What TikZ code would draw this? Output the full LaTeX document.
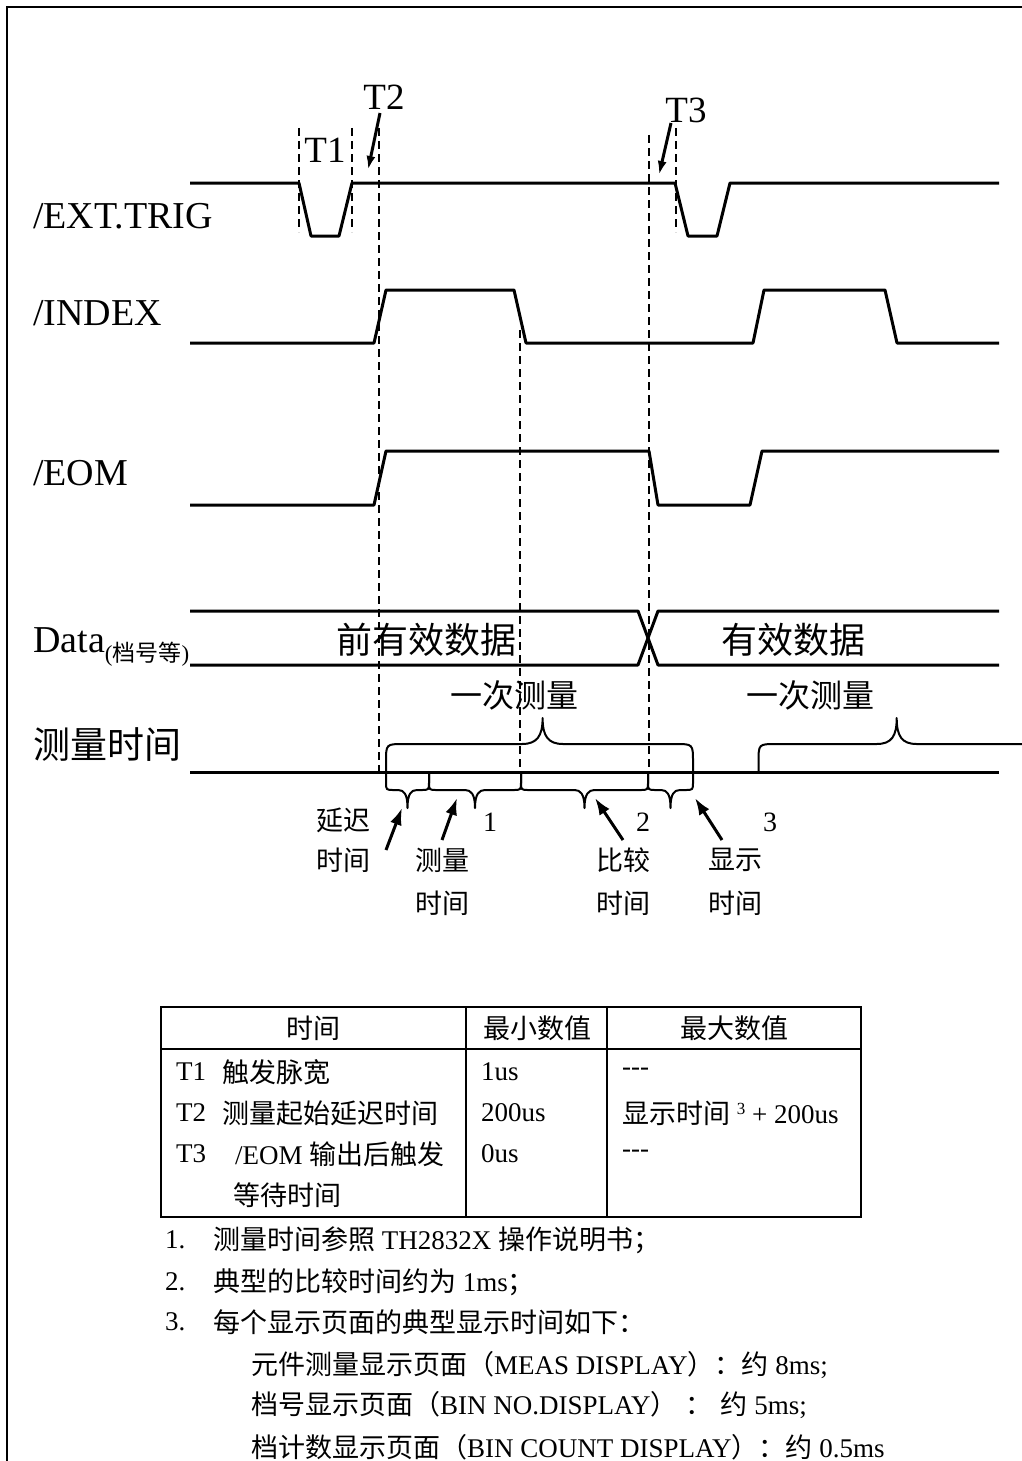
\documentclass[tikz,border=0pt]{standalone}
\usepackage{fontspec}
\setmainfont{Liberation Serif}
\newfontfamily\cjk{Noto Sans CJK SC}
\usetikzlibrary{arrows.meta}
\newcommand\fsz[1]{\fontsize{#1}{#1}\selectfont}
\begin{document}
\begin{tikzpicture}[x=1pt,y=-1pt,
  sig/.style={line width=3pt,line join=round},
  guide/.style={line width=1.1pt,dash pattern=on 8pt off 5pt},
  brc/.style={line width=2pt,line join=round},
  tab/.style={line width=2pt},
  lbl/.style={inner sep=0pt,anchor=base west,font=\fsz{38}},
  tlbl/.style={inner sep=0pt,font=\fsz{37}},
  bigcn/.style={inner sep=0pt,font=\cjk\fsz{36}},
  midcn/.style={inner sep=0pt,font=\cjk\fsz{32}},
  smcn/.style={inner sep=0pt,font=\cjk\fsz{27}},
  smnum/.style={inner sep=0pt,font=\fsz{28}},
  cell/.style={inner sep=0pt,anchor=west,font=\fsz{27}},
  hdr/.style={inner sep=0pt,font=\cjk\fsz{27}},
  tarr/.style={line width=3pt,-{Latex[length=14pt,width=9pt]}},
  barr/.style={line width=3pt,-{Latex[length=17pt,width=12pt]}}
]
\useasboundingbox (0,0) rectangle (1021,1461);
% frame
\draw[line width=2.5pt] (1030,7) -- (7,7) -- (7,1470);

% signal labels
\node[lbl] (lext) at (33,228) {/EXT.TRIG};
\node[lbl] (lidx) at (33,325) {/INDEX};
\node[lbl] (leom) at (33,485) {/EOM};
\node[lbl] (ldata) at (33,652) {Data\raisebox{-9pt}{\fsz{23}({\cjk 档号等})}};
\node[inner sep=0pt,anchor=west,font=\cjk\fsz{37}] (lmt) at (33,745) {测量时间};

% waveforms
\draw[sig] (190,183) -- (299,183) -- (311,236) -- (339,236) -- (352,183) -- (675,183) -- (688,236) -- (717,236) -- (730,183) -- (999,183);
\draw[sig] (190,343) -- (374,343) -- (386,290) -- (514,290) -- (526,343) -- (753,343) -- (764,290) -- (885,290) -- (897,343) -- (999,343);
\draw[sig] (190,505) -- (374,505) -- (386,451) -- (649,451) -- (658,505) -- (750,505) -- (762,451) -- (999,451);
\draw[sig] (190,611) -- (638,611) -- (658,665) -- (999,665);
\draw[sig] (190,665) -- (638,665) -- (658,611) -- (999,611);
\draw[sig] (190,772) -- (999,772);

% dashed guides
\draw[guide] (299,128) -- (299,232);
\draw[guide] (352,128) -- (352,232);
\draw[guide] (379,128) -- (379,772);
\draw[guide] (520,330) -- (520,772);
\draw[guide] (649,135) -- (649,772);
\draw[guide] (676,128) -- (676,232);

% T labels and arrows
\node[tlbl] (t1) at (325,150) {T1};
\node[tlbl] (t2) at (384,97) {T2};
\node[tlbl] (t3) at (686,110) {T3};
\coordinate (t2s) at (380,113); \coordinate (t2e) at (368,170);
\coordinate (t3s) at (671,123); \coordinate (t3e) at (659,175);
\draw[tarr] (t2s) -- (t2e);
\draw[tarr] (t3s) -- (t3e);

% data texts
\node[bigcn] (d1) at (426,640) {前有效数据};
\node[bigcn] (d2) at (793,640) {有效数据};
\node[midcn] (m1) at (514,695) {一次测量};
\node[midcn] (m2) at (810,695) {一次测量};

% big braces
\draw[brc] (386,772) -- (386,762) .. controls (386,744) .. (404,744) -- (522,744) .. controls (537,744) and (542.6,736) .. (542.6,718) .. controls (542.6,736) and (548,744) .. (563,744) -- (675,744) .. controls (693,744) .. (693,762) -- (693,772);
\draw[brc] (758.5,772) -- (758.5,762) .. controls (758.5,744) .. (776.5,744) -- (876.7,744) .. controls (891.7,744) and (896.7,736) .. (896.7,718) .. controls (896.7,736) and (901.7,744) .. (916.7,744) -- (1017,744) .. controls (1035,744) .. (1035,762) -- (1035,772);

% small braces
\draw[brc] (386,772) -- (386,782) .. controls (386,790) .. (394,790) -- (398,790) .. controls (404,790) and (407.5,794) .. (407.5,808) .. controls (407.5,794) and (411,790) .. (417,790) -- (421,790) .. controls (429,790) .. (429,782) -- (429,772);
\draw[brc] (429,772) -- (429,782) .. controls (429,790) .. (437,790) -- (465,790) .. controls (471,790) and (475,794) .. (475,808) .. controls (475,794) and (479,790) .. (485,790) -- (513,790) .. controls (521,790) .. (521,782) -- (521,772);
\draw[brc] (521,772) -- (521,782) .. controls (521,790) .. (529,790) -- (574.5,790) .. controls (580.5,790) and (584.5,794) .. (584.5,808) .. controls (584.5,794) and (588.5,790) .. (594.5,790) -- (640,790) .. controls (648,790) .. (648,782) -- (648,772);
\draw[brc] (648,772) -- (648,782) .. controls (648,790) .. (656,790) -- (661,790) .. controls (667,790) and (670.5,794) .. (670.5,808) .. controls (670.5,794) and (674,790) .. (680,790) -- (685,790) .. controls (693,790) .. (693,782) -- (693,772);

% bottom labels
\node[smcn] (a1) at (343,820) {延迟};
\node[smcn] (a2) at (343,860) {时间};
\node[smcn] (b1) at (442,860) {测量};
\node[smcn] (b2) at (442,903) {时间};
\node[smcn] (c1) at (623,860) {比较};
\node[smcn] (c2) at (623,903) {时间};
\node[smcn] (e1) at (735,860) {显示};
\node[smcn] (e2) at (735,903) {时间};
\node[smnum] (n1) at (490,822) {1};
\node[smnum] (n2) at (643,822) {2};
\node[smnum] (n3) at (770,822) {3};
\coordinate (p1s) at (386,850); \coordinate (p1e) at (402,808);
\coordinate (p2s) at (442,840); \coordinate (p2e) at (457,798);
\coordinate (p3s) at (623,840); \coordinate (p3e) at (595,798);
\coordinate (p4s) at (722,840); \coordinate (p4e) at (695,798);
\draw[barr] (p1s) -- (p1e);
\draw[barr] (p2s) -- (p2e);
\draw[barr] (p3s) -- (p3e);
\draw[barr] (p4s) -- (p4e);

% table
\draw[tab] (161,1007) rectangle (861,1217);
\draw[tab] (161,1049) -- (861,1049);
\draw[tab] (466,1007) -- (466,1217);
\draw[tab] (607,1007) -- (607,1217);
\node[hdr] (h1) at (313,1028) {时间};
\node[hdr] (h2) at (537,1028) {最小数值};
\node[hdr] (h3) at (734,1028) {最大数值};
\node[cell] (r1a) at (176,1072) {T1};
\node[cell] (r1b) at (222,1072) {\cjk 触发脉宽};
\node[cell] (r1c) at (481,1072) {1us};
\node[cell] (r1d) at (622,1072) {{-}{-}{-}};
\node[cell] (r2a) at (176,1113) {T2};
\node[cell] (r2b) at (222,1113) {\cjk 测量起始延迟时间};
\node[cell] (r2c) at (481,1113) {200us};
\node[cell] (r2d) at (622,1113) {{\cjk 显示时间} \raisebox{9pt}{\fsz{17}3} + 200us};
\node[cell] (r3a) at (176,1154) {T3};
\node[cell] (r3b) at (235,1154) {/EOM {\cjk 输出后触发}};
\node[cell] (r3c) at (481,1154) {0us};
\node[cell] (r3d) at (622,1154) {{-}{-}{-}};
\node[cell] (r4b) at (233,1195) {\cjk 等待时间};

% notes
\node[cell] (q1n) at (165,1240) {1.};
\node[cell] (q1) at (213,1240) {{\cjk 测量时间参照} TH2832X {\cjk 操作说明书；}};
\node[cell] (q2n) at (165,1282) {2.};
\node[cell] (q2) at (213,1282) {{\cjk 典型的比较时间约为} 1ms{\cjk ；}};
\node[cell] (q3n) at (165,1322) {3.};
\node[cell] (q3) at (213,1322) {\cjk 每个显示页面的典型显示时间如下：};
\node[cell] (q4) at (251,1365) {{\cjk 元件测量显示页面（}MEAS DISPLAY{\cjk ）：约} 8ms;};
\node[cell] (q5) at (251,1405) {{\cjk 档号显示页面（}BIN NO.DISPLAY{\cjk ）}\hspace{8pt}{\cjk ：}\hspace{8pt}{\cjk 约} 5ms;};
\node[cell] (q6) at (251,1447) {{\cjk 档计数显示页面（}BIN COUNT DISPLAY{\cjk ）：约} 0.5ms};
\end{tikzpicture}
\end{document}
